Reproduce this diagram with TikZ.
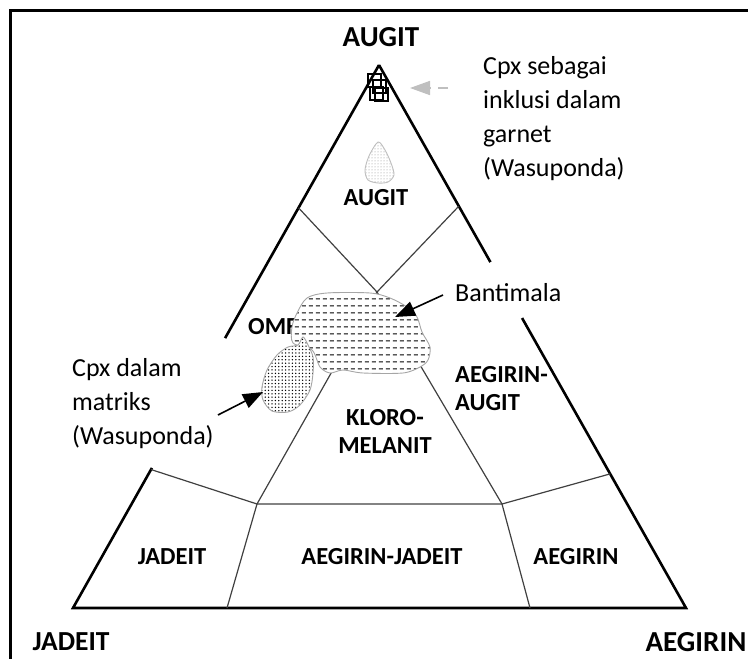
\documentclass[tikz,border=0pt]{standalone}
\usepackage{fontspec}
\setmainfont{Carlito}
\usetikzlibrary{arrows.meta, positioning, calc, patterns}

% rows of short dashes for the Bantimala field
\pgfdeclarepatternformonly{hdashes}{\pgfqpoint{0pt}{0pt}}{\pgfqpoint{7pt}{7pt}}{\pgfqpoint{7pt}{7pt}}{%
  \pgfsetlinewidth{1.1pt}
  \pgfpathmoveto{\pgfqpoint{1pt}{3.5pt}}
  \pgfpathlineto{\pgfqpoint{5.5pt}{3.5pt}}
  \pgfusepath{stroke}}
% coarser dots for the matrix field
\pgfdeclarepatternformonly{bigdots}{\pgfqpoint{-1pt}{-1pt}}{\pgfqpoint{1pt}{1pt}}{\pgfqpoint{3.4pt}{3.4pt}}{%
  \pgfpathcircle{\pgfqpoint{0pt}{0pt}}{0.75pt}
  \pgfusepath{fill}}

\begin{document}
\begin{tikzpicture}[x=1pt, y=-1pt,
    rim/.style={line width=2.6pt},
    divline/.style={line width=1.2pt, black!75},
    zone/.style={font=\fontsize{24.5}{28}\selectfont\bfseries, align=center, inner sep=0pt},
    corner/.style={font=\fontsize{29}{30}\selectfont\bfseries, inner sep=0pt},
    note/.style={font=\fontsize{26}{34}\selectfont, align=left, inner sep=0pt},
    blob/.style={draw=black!35, line width=0.9pt, preaction={fill=white}},
    pointer/.style={-{Triangle[length=20pt, width=15pt]}, line width=1.6pt}]
        \useasboundingbox (0,0) rectangle (748,659);

        % frame
        \draw[line width=3pt] (748,10.5) -- (10.5,10.5) -- (10.5,659);

        % corners of the ternary diagram
        \coordinate (apex) at (379,65);
        \coordinate (jd) at (73,608);
        \coordinate (ae) at (686,608);
        \coordinate (lUp) at ($(apex)!0.503!(jd)$);
        \coordinate (lLow) at ($(apex)!0.742!(jd)$);
        \coordinate (rUp) at ($(apex)!0.363!(ae)$);
        \coordinate (rLow) at ($(apex)!0.466!(ae)$);

        \draw[rim] (apex) -- (lUp);
        \draw[rim] (lLow) -- (jd) -- (ae) -- (rLow);
        \draw[rim] (rUp) -- (apex);

        % field boundaries
        \coordinate (p1) at ($(apex)!0.263!(jd)$);
        \coordinate (p2) at ($(apex)!0.260!(ae)$);
        \coordinate (q1) at ($(apex)!0.745!(jd)$);
        \coordinate (q2) at ($(apex)!0.753!(ae)$);
        \coordinate (mid) at (377,292);
        \coordinate (k1) at (257,504);
        \coordinate (k2) at (502,504);
        \coordinate (b1) at (227,608);
        \coordinate (b2) at (530,608);

        \draw[divline] (p1) -- (mid) -- (p2);
        \draw[divline] (k1) -- (mid) -- (k2);
        \draw[divline] (q1) -- (k1) -- (k2) -- (q2);
        \draw[divline] (k1) -- (b1);
        \draw[divline] (k2) -- (b2);

        % field names
        \node[corner] (topAugit) at (381,37) {AUGIT};
        \node[corner, font=\fontsize{27.5}{30}\selectfont\bfseries] (cornerJd) at (71,642) {JADEIT};
        \node[corner] (cornerAe) at (696,642) {AEGIRIN};
        \node[zone] (augitZone) at (376,198) {AUGIT};
        \node[zone, anchor=west] (omfZone) at (248,327) {OMFASIT};
        \node[zone, align=left, anchor=west] (aeAugZone) at (455,389) {AEGIRIN-\\AUGIT};
        \node[zone] (kloroZone) at (385,431) {KLORO-\\MELANIT};
        \node[zone] (jdZone) at (172,557) {JADEIT};
        \node[zone] (aeJdZone) at (382,557) {AEGIRIN-JADEIT};
        \node[zone] (aeZone) at (576,557) {AEGIRIN};

        % sample fields
        \draw[blob, draw=black!25, pattern=dots, pattern color=black!45]
          plot[smooth cycle] coordinates {(378,142) (385,150) (391,163)
          (394,175) (388,182) (378,183) (368,180) (365,170) (369,156)};
        \draw[blob, pattern=hdashes] plot[smooth cycle] coordinates {
          (297,313) (307,298) (327,293) (370,293) (390,298) (407,307)
          (417,317) (422,332) (430,347) (428,360) (420,367) (403,373)
          (363,373) (343,370) (330,373) (320,367) (312,350) (293,343)
          (292,327)};
        \draw[blob, pattern=bigdots] plot[smooth cycle] coordinates {
          (303,337) (308,345) (313,357) (313,373) (310,390) (300,405)
          (288,412) (272,411) (263,400) (262,387) (267,370) (277,355)
          (288,347) (298,345)};

        \foreach \sx/\sy in {368/74, 373/80, 370/87, 375/88}{
          \draw[line width=1.2pt] (\sx,\sy) rectangle ++(13,13);
        }

        % notes and pointers
        \node[note, anchor=west] (inclNote) at (483,119)
          {Cpx sebagai\\inklusi dalam\\garnet\\(Wasuponda)};
        \node[note, anchor=west] (bantiNote) at (455,293) {Bantimala};
        \node[note, anchor=west] (matNote) at (72,404)
          {Cpx dalam\\matriks\\(Wasuponda)};

        \coordinate (inclTail) at (448,88);
        \coordinate (inclTip) at (410,88);
        \coordinate (bantiTail) at (443,295);
        \coordinate (bantiTip) at (395,317);
        \coordinate (matTail) at (218,415);
        \coordinate (matTip) at (263,392);

        \draw[-{Triangle[length=20pt, width=14pt]}, black!25, line width=1.6pt,
              dash pattern=on 10pt off 8pt] (inclTail) -- (inclTip);
        \draw[pointer] (bantiTail) -- (bantiTip);
        \draw[pointer] (matTail) -- (matTip);
      \end{tikzpicture}
\end{document}
